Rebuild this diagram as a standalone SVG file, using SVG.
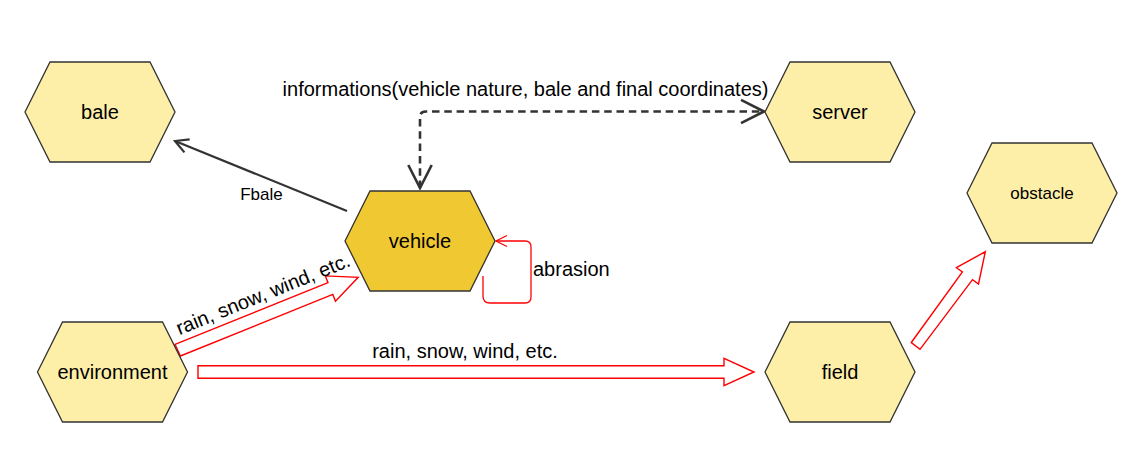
<svg xmlns="http://www.w3.org/2000/svg" width="1146" height="465" viewBox="0 0 1146 465">
<style>
.hex{stroke:#333333;stroke-width:1.3}
.light{fill:#feefa8}
.dark{fill:#efc832}
.lbl{font-family:"Liberation Sans",Arial,sans-serif;font-size:20px;fill:#000000}
.nlbl{font-family:"Liberation Sans",Arial,sans-serif;font-size:20px;fill:#000000;text-anchor:middle}
.small{font-size:17px}
.flex{fill:#ffffff;stroke:#ff0000;stroke-width:1.4;stroke-linejoin:miter}
.dk{fill:none;stroke:#333333;stroke-width:2.2}
.dash{stroke-width:2.6;stroke-dasharray:7.5 4.8}
.red{fill:none;stroke:#ff0000;stroke-width:1.3}
</style>
<defs>
<path id="hexshape" d="M0,50 L25,0 L125,0 L150,50 L125,100 L25,100 Z"/>
<marker id="openBig" markerUnits="userSpaceOnUse" viewBox="-26 -14 28 28" refX="0" refY="0" markerWidth="28" markerHeight="28" orient="auto-start-reverse">
<path d="M-23,-11.7 L0,0 L-23,11.7" fill="none" stroke="#333333" stroke-width="2.6"/>
</marker>
<marker id="openSmall" markerUnits="userSpaceOnUse" viewBox="-16 -9 18 18" refX="0" refY="0" markerWidth="18" markerHeight="18" orient="auto">
<path d="M-13,-7 L0,0 L-13,7" fill="none" stroke="#333333" stroke-width="2.2"/>
</marker>
<marker id="openRed" markerUnits="userSpaceOnUse" viewBox="-14 -8 16 16" refX="0" refY="0" markerWidth="16" markerHeight="16" orient="auto">
<path d="M-11,-5.5 L0,0 L-11,5.5" fill="none" stroke="#ff0000" stroke-width="1.3"/>
</marker>
</defs>
<rect x="0" y="0" width="1146" height="465" fill="#ffffff"/>

<g id="connectors">
<g id="edge-vehicle-bale">
<path class="dk" d="M347,211 L175,141" marker-end="url(#openSmall)"/>
<text class="lbl small" x="261.5" y="200" text-anchor="middle" fill="#333333">Fbale</text>
</g>
<g id="edge-vehicle-server">
<path class="dk dash" d="M420,188 L420,117 Q420,111.5 426,111.5 L764,111.5" marker-start="url(#openBig)" marker-end="url(#openBig)"/>
<text class="lbl" x="525.5" y="96" text-anchor="middle">informations(vehicle nature, bale and final coordinates)</text>
</g>
<g id="edge-vehicle-self">
<path class="red" d="M483,276 L483,296 Q483,303 490,303 L525,303 Q531,303 531,297 L531,247 Q531,241 525,241 L496,241" marker-end="url(#openRed)"/>
<text class="lbl" x="533" y="276">abrasion</text>
</g>
<g id="edge-env-vehicle">
<polygon class="flex" points="175,344.3 328,282.7 325.3,275.9 358.2,277.3 335.5,301.2 332.8,294.4 180.4,356"/>
<text class="lbl" x="265.5" y="300.5" text-anchor="middle" transform="rotate(-22 265.5 300.5)">rain, snow, wind, etc.</text>
</g>
<g id="edge-env-field">
<polygon class="flex" points="198,365.7 724,365.7 724,358.3 754,372 724,385.7 724,378.3 198,378.3"/>
<text class="lbl" x="465" y="358" text-anchor="middle">rain, snow, wind, etc.</text>
</g>
<g id="edge-field-obstacle">
<polygon class="flex" points="911.3,342.5 962.4,272 956.4,267.7 985.3,251.7 978.5,284 972.5,279.6 920,349.3"/>
</g>
</g>

<g id="node-bale">
<use href="#hexshape" class="hex light" x="25" y="62"/>
<text class="nlbl" x="100" y="119">bale</text>
</g>
<g id="node-server">
<use href="#hexshape" class="hex light" x="765" y="62"/>
<text class="nlbl" x="840" y="119">server</text>
</g>
<g id="node-vehicle">
<use href="#hexshape" class="hex dark" x="345" y="191"/>
<text class="nlbl" x="420" y="248">vehicle</text>
</g>
<g id="node-obstacle">
<use href="#hexshape" class="hex light" x="967" y="143"/>
<text class="nlbl small" x="1042" y="199">obstacle</text>
</g>
<g id="node-environment">
<use href="#hexshape" class="hex light" x="37.5" y="322"/>
<text class="nlbl" x="112.5" y="379">environment</text>
</g>
<g id="node-field">
<use href="#hexshape" class="hex light" x="765" y="322"/>
<text class="nlbl" x="840" y="379">field</text>
</g>
</svg>
